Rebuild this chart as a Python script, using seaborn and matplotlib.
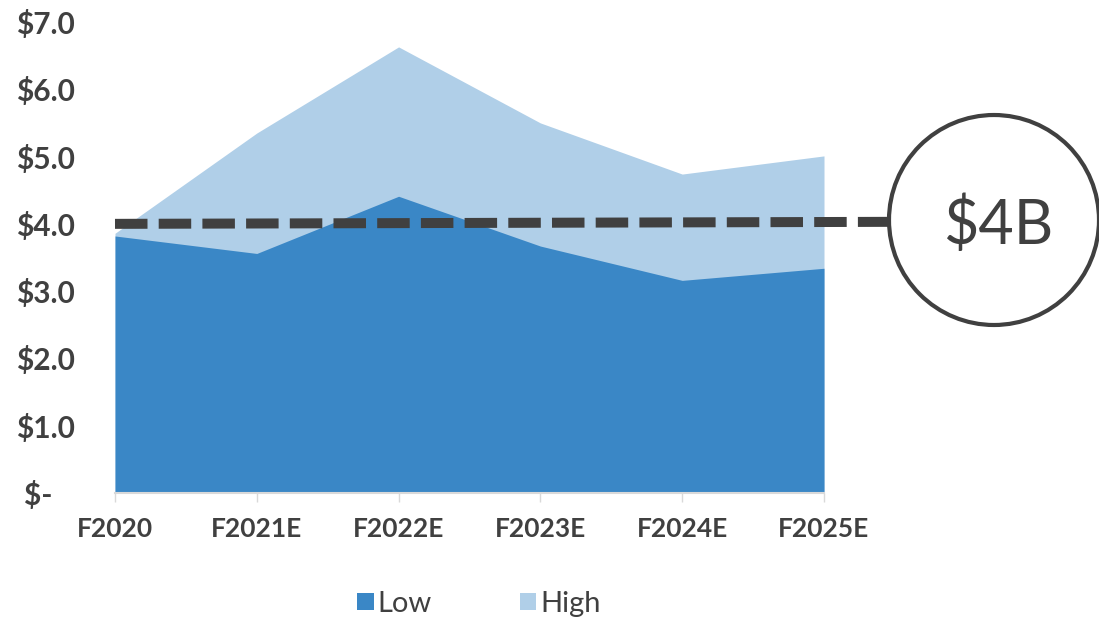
import matplotlib
matplotlib.use("Agg")
import matplotlib.pyplot as plt
from matplotlib.patches import Circle, Patch
import numpy as np
import pandas as pd
import seaborn as sns

# Fiscal years and revenue range estimates ($B)
years = ["F2020", "F2021E", "F2022E", "F2023E", "F2024E", "F2025E"]
low = [3.82, 3.56, 4.41, 3.67, 3.16, 3.34]
high = [3.86, 5.35, 6.63, 5.50, 4.74, 5.01]
target_value = 4.0
target_label = "$4B"
y_ticks = [0, 1, 2, 3, 4, 5, 6, 7]
y_tick_labels = ["$-   ", "$1.0", "$2.0", "$3.0", "$4.0", "$5.0", "$6.0", "$7.0"]

LOW_COLOR = "#3A87C6"
HIGH_COLOR = "#B0CFE8"
TEXT_COLOR = "#404040"
SPINE_COLOR = "#D9D9D9"

sns.set_theme(style="white")
plt.rcParams["font.family"] = ["Lato", "DejaVu Sans"]

pos = np.arange(len(years))
df = pd.DataFrame({
    "pos": np.concatenate([pos, pos]),
    "value": high + low,
    "series": ["High"] * len(years) + ["Low"] * len(years),
})

fig = plt.figure(figsize=(10.99, 6.20), dpi=100)
ax = fig.add_axes([115 / 1099, 127 / 620, (824 - 115) / 1099, (598 - 127) / 620])

# Invisible lines set up the scales; the areas are filled from the same data
sns.lineplot(data=df, x="pos", y="value", hue="series", palette=[HIGH_COLOR, LOW_COLOR],
             linewidth=0, legend=False, ax=ax)
ax.fill_between(pos, 0, high, color=HIGH_COLOR, linewidth=0, zorder=1)
ax.fill_between(pos, 0, low, color=LOW_COLOR, linewidth=0, zorder=2)

ax.set_xlim(0, len(years) - 1)
ax.set_ylim(0, 7)
ax.set_xticks(pos)
ax.set_xticklabels(years)
ax.set_yticks(y_ticks)
ax.set_yticklabels(y_tick_labels)
ax.set_xlabel("")
ax.set_ylabel("")

for side in ("top", "right", "left"):
    ax.spines[side].set_visible(False)
ax.spines["bottom"].set_color(SPINE_COLOR)
ax.spines["bottom"].set_linewidth(1.5)
ax.spines["bottom"].set_zorder(3)

ax.tick_params(axis="x", length=6.5, width=1, color=SPINE_COLOR, direction="out",
               pad=11, labelsize=19, labelcolor=TEXT_COLOR, bottom=True)
ax.tick_params(axis="y", length=0, pad=29, labelsize=21.5, labelcolor=TEXT_COLOR)
for lbl in ax.get_xticklabels() + ax.get_yticklabels():
    lbl.set_fontweight("bold")

# Target line running out to the edge of the callout circle
ax.plot([0, 5.47], [target_value, target_value + 0.03], color=TEXT_COLOR, linewidth=7.2,
        dashes=(3.25, 1.12), solid_capstyle="butt", dash_capstyle="butt",
        clip_on=False, zorder=4)

circle = Circle((9.94, 4.00), 1.05, transform=fig.dpi_scale_trans, facecolor="white",
                edgecolor=TEXT_COLOR, linewidth=3, zorder=5)
fig.add_artist(circle)
fig.text(9.98 / 10.99, 4.00 / 6.20, target_label, ha="center", va="center_baseline",
         fontsize=44, color=TEXT_COLOR, zorder=6)

handles = [Patch(facecolor=LOW_COLOR, edgecolor="none", label="Low"),
           Patch(facecolor=HIGH_COLOR, edgecolor="none", label="High")]
fig.legend(handles=handles, loc="center", bbox_to_anchor=(479 / 1099, 1 - 604 / 620),
           ncol=2, frameon=False, fontsize=21, labelcolor=TEXT_COLOR,
           handlelength=0.55, handleheight=0.55, handletextpad=0.15,
           columnspacing=3.0, borderpad=0)

fig.savefig("out.png", dpi=100)
